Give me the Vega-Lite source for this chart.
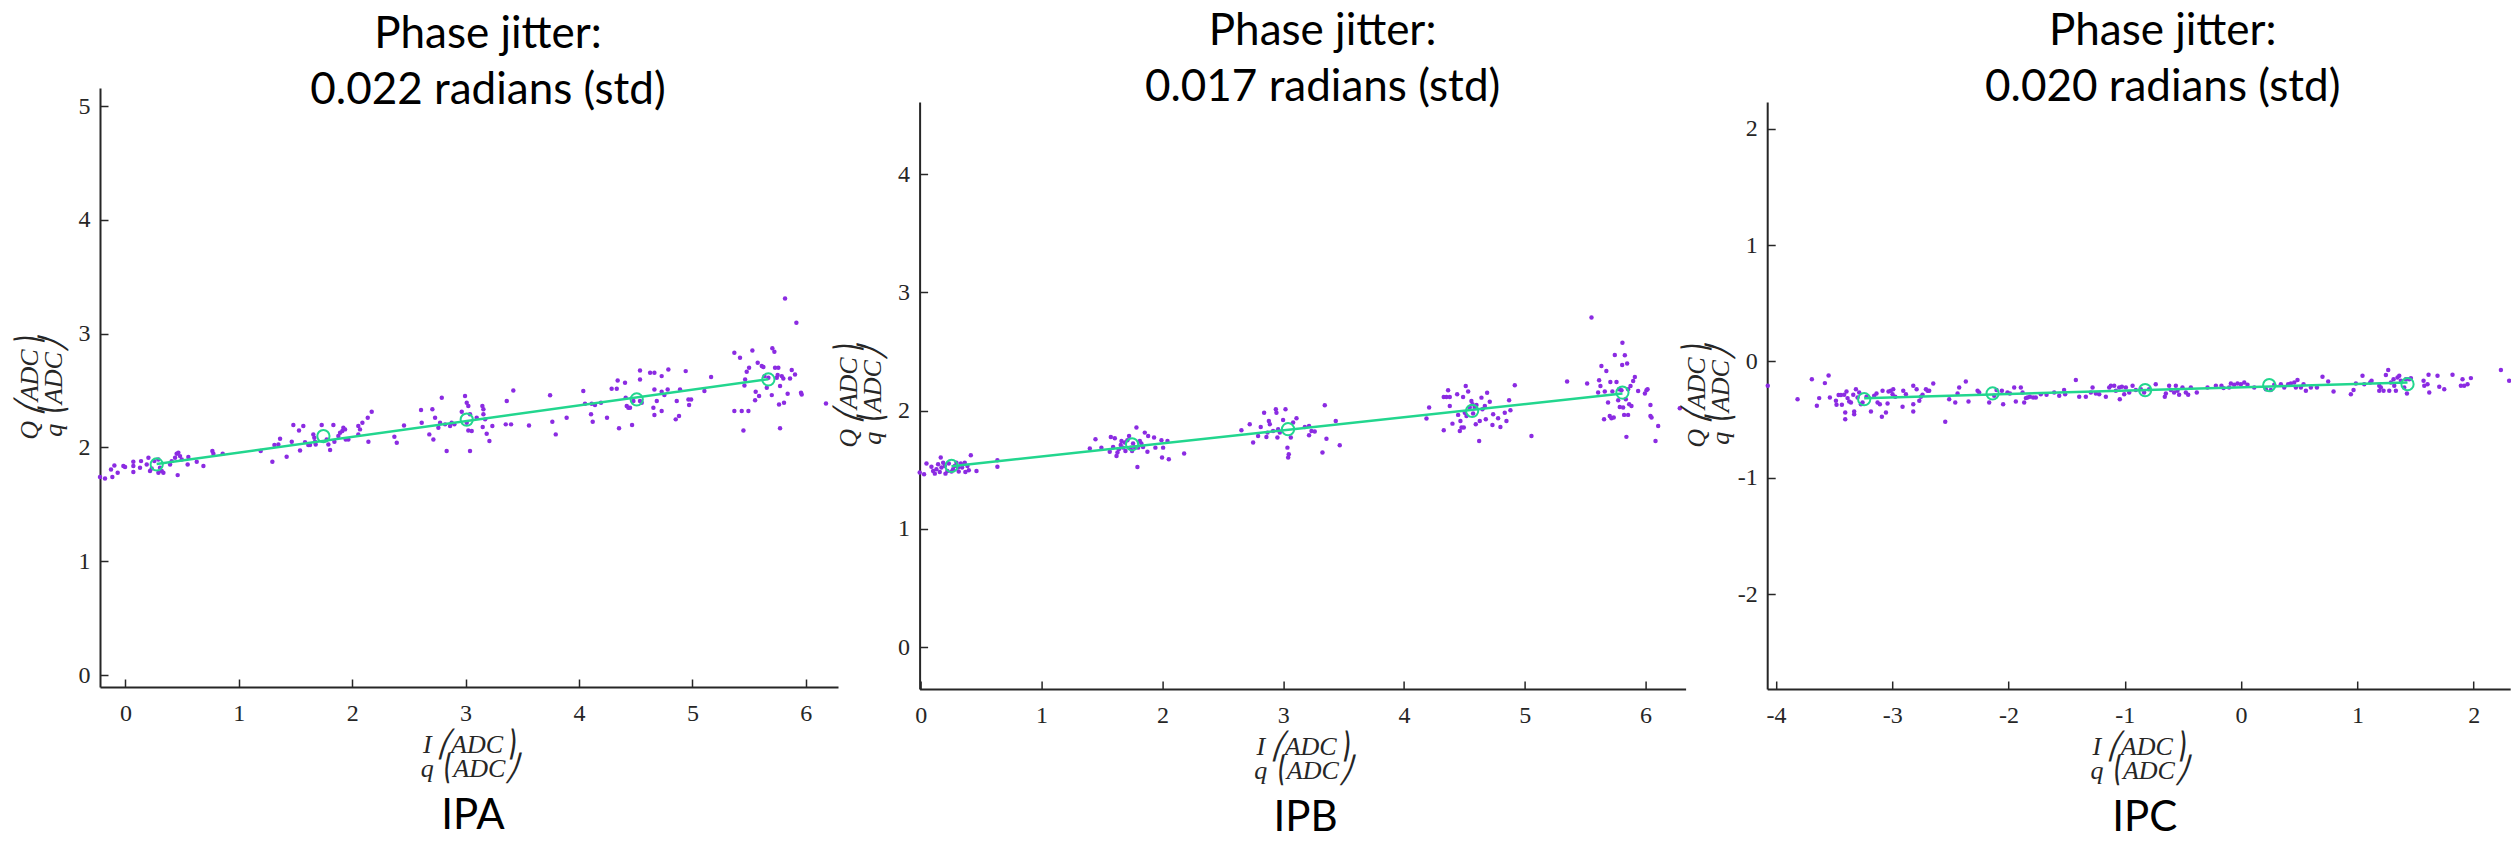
{
"$schema": "https://vega.github.io/schema/vega-lite/v6.json",
"background": "white",
"padding": {"left": 16, "top": 9, "right": 0, "bottom": 0},
"config": {
  "view": {"stroke": null},
  "axis": {"grid": false, "domainColor": "#262626", "domainWidth": 2, "tickColor": "#262626", "tickWidth": 1.5, "tickSize": -8,
           "labelFont": "Liberation Serif", "labelFontSize": 24, "labelColor": "#262626", "labelOverlap": false, "labelFlush": false,
           "labelExpr": "toString(datum.value)",
           "titleFont": "Liberation Serif", "titleFontSize": 26, "titleFontStyle": "italic", "titleFontWeight": "normal", "titleColor": "#262626", "titleLineHeight": 24},
  "axisX": {"labelPadding": 22, "minExtent": 36, "maxExtent": 36, "titlePadding": 8},
  "axisY": {"labelPadding": 18, "minExtent": 30, "maxExtent": 30, "titlePadding": 4},
  "title": {"font": "Lato", "fontSize": 44, "fontWeight": "normal", "color": "#000000", "lineHeight": 56.5, "baseline": "alphabetic", "frame": "group", "anchor": "middle"}
},
"datasets": {
"pts": [
{"p":"A","x":-0.224,"y":1.740},{"p":"A","x":-0.180,"y":1.728},{"p":"A","x":-0.115,"y":1.740},{"p":"A","x":-0.068,"y":1.778},{"p":"A","x":-0.127,"y":1.807},{"p":"A","x":-0.097,"y":1.842},{"p":"A","x":-0.018,"y":1.837},{"p":"A","x":-0.003,"y":1.828},{"p":"A","x":0.070,"y":1.875},{"p":"A","x":0.070,"y":1.837},{"p":"A","x":0.070,"y":1.784},{"p":"A","x":0.129,"y":1.822},{"p":"A","x":0.138,"y":1.880},{"p":"A","x":0.188,"y":1.851},{"p":"A","x":0.203,"y":1.910},{"p":"A","x":0.232,"y":1.816},{"p":"A","x":0.217,"y":1.793},{"p":"A","x":0.255,"y":1.880},{"p":"A","x":0.291,"y":1.895},{"p":"A","x":0.305,"y":1.822},{"p":"A","x":0.335,"y":1.778},{"p":"A","x":0.320,"y":1.793},{"p":"A","x":0.291,"y":1.778},{"p":"A","x":0.394,"y":1.851},{"p":"A","x":0.408,"y":1.880},{"p":"A","x":0.438,"y":1.910},{"p":"A","x":0.452,"y":1.945},{"p":"A","x":0.467,"y":1.954},{"p":"A","x":0.482,"y":1.924},{"p":"A","x":0.497,"y":1.895},{"p":"A","x":0.549,"y":1.851},{"p":"A","x":0.555,"y":1.916},{"p":"A","x":0.461,"y":1.757},{"p":"A","x":0.629,"y":1.875},{"p":"A","x":0.688,"y":1.837},{"p":"A","x":0.767,"y":1.968},{"p":"A","x":0.776,"y":1.945},{"p":"A","x":0.858,"y":1.945},
{"p":"A","x":1.193,"y":1.968},{"p":"A","x":1.296,"y":1.875},{"p":"A","x":1.314,"y":2.021},{"p":"A","x":1.349,"y":2.027},{"p":"A","x":1.364,"y":2.077},{"p":"A","x":1.422,"y":1.919},{"p":"A","x":1.467,"y":2.050},{"p":"A","x":1.481,"y":2.197},{"p":"A","x":1.531,"y":2.150},{"p":"A","x":1.540,"y":1.974},{"p":"A","x":1.569,"y":2.188},{"p":"A","x":1.584,"y":2.047},{"p":"A","x":1.613,"y":2.021},{"p":"A","x":1.628,"y":2.021},{"p":"A","x":1.657,"y":2.115},{"p":"A","x":1.666,"y":2.086},{"p":"A","x":1.672,"y":2.050},{"p":"A","x":1.678,"y":2.027},{"p":"A","x":1.731,"y":2.197},{"p":"A","x":1.775,"y":2.071},{"p":"A","x":1.790,"y":2.027},{"p":"A","x":1.805,"y":1.977},{"p":"A","x":1.834,"y":2.197},{"p":"A","x":1.843,"y":2.050},{"p":"A","x":1.878,"y":2.100},{"p":"A","x":1.893,"y":2.129},{"p":"A","x":1.913,"y":2.144},{"p":"A","x":1.922,"y":2.173},{"p":"A","x":1.937,"y":2.159},{"p":"A","x":1.943,"y":2.071},{"p":"A","x":1.966,"y":2.071},{"p":"A","x":2.054,"y":2.188},{"p":"A","x":2.069,"y":2.159},{"p":"A","x":2.054,"y":2.115},{"p":"A","x":2.090,"y":2.217},{"p":"A","x":2.137,"y":2.261},{"p":"A","x":2.172,"y":2.314},{"p":"A","x":2.143,"y":2.050},{"p":"A","x":2.372,"y":2.094},{"p":"A","x":2.393,"y":2.042},{"p":"A","x":2.457,"y":2.194},{"p":"A","x":2.607,"y":2.329},{"p":"A","x":2.613,"y":2.217},{"p":"A","x":2.680,"y":2.115},{"p":"A","x":2.707,"y":2.335},{"p":"A","x":2.716,"y":2.071},{"p":"A","x":2.731,"y":2.261},{"p":"A","x":2.760,"y":2.173},{"p":"A","x":2.775,"y":2.217},{"p":"A","x":2.790,"y":2.437},{"p":"A","x":2.833,"y":1.968},{"p":"A","x":2.819,"y":2.203},{"p":"A","x":2.863,"y":2.188},{"p":"A","x":2.877,"y":2.217},{"p":"A","x":2.901,"y":2.203},{"p":"A","x":2.966,"y":2.314},{"p":"A","x":2.995,"y":2.452},{"p":"A","x":3.010,"y":2.393},{"p":"A","x":3.024,"y":2.364},{"p":"A","x":3.024,"y":2.150},{"p":"A","x":3.039,"y":1.968},
{"p":"A","x":3.039,"y":2.291},{"p":"A","x":3.010,"y":2.217},{"p":"A","x":3.054,"y":2.144},{"p":"A","x":3.098,"y":2.261},{"p":"A","x":3.148,"y":2.364},{"p":"A","x":3.157,"y":2.335},{"p":"A","x":3.157,"y":2.291},{"p":"A","x":3.172,"y":2.247},{"p":"A","x":3.151,"y":2.179},{"p":"A","x":3.186,"y":2.121},{"p":"A","x":3.210,"y":2.056},{"p":"A","x":3.236,"y":2.188},{"p":"A","x":3.363,"y":2.408},{"p":"A","x":3.354,"y":2.203},{"p":"A","x":3.401,"y":2.203},{"p":"A","x":3.421,"y":2.501},{"p":"A","x":3.559,"y":2.194},{"p":"A","x":3.745,"y":2.458},{"p":"A","x":3.765,"y":2.226},{"p":"A","x":3.795,"y":2.115},{"p":"A","x":3.891,"y":2.261},{"p":"A","x":4.038,"y":2.496},{"p":"A","x":4.053,"y":2.384},{"p":"A","x":4.106,"y":2.291},{"p":"A","x":4.121,"y":2.226},{"p":"A","x":4.112,"y":2.384},{"p":"A","x":4.141,"y":2.373},{"p":"A","x":4.194,"y":2.393},{"p":"A","x":4.247,"y":2.261},{"p":"A","x":4.288,"y":2.516},{"p":"A","x":4.333,"y":2.516},{"p":"A","x":4.341,"y":2.589},{"p":"A","x":4.353,"y":2.168},{"p":"A","x":4.406,"y":2.569},{"p":"A","x":4.412,"y":2.437},{"p":"A","x":4.421,"y":2.364},{"p":"A","x":4.435,"y":2.349},{"p":"A","x":4.450,"y":2.349},{"p":"A","x":4.468,"y":2.197},{"p":"A","x":4.480,"y":2.408},{"p":"A","x":4.538,"y":2.677},{"p":"A","x":4.538,"y":2.598},{"p":"A","x":4.538,"y":2.408},{"p":"A","x":4.553,"y":2.393},{"p":"A","x":4.627,"y":2.657},{"p":"A","x":4.665,"y":2.657},{"p":"A","x":4.656,"y":2.349},{"p":"A","x":4.665,"y":2.285},{"p":"A","x":4.665,"y":2.510},{"p":"A","x":4.686,"y":2.408},{"p":"A","x":4.729,"y":2.627},{"p":"A","x":4.729,"y":2.320},{"p":"A","x":4.729,"y":2.490},{"p":"A","x":4.753,"y":2.460},{"p":"A","x":4.782,"y":2.510},{"p":"A","x":4.788,"y":2.686},{"p":"A","x":4.853,"y":2.247},{"p":"A","x":4.862,"y":2.408},{"p":"A","x":4.882,"y":2.276},{"p":"A","x":4.891,"y":2.510},{"p":"A","x":4.941,"y":2.671},{"p":"A","x":4.965,"y":2.422},{"p":"A","x":4.971,"y":2.373},{"p":"A","x":4.989,"y":2.422},{"p":"A","x":5.106,"y":2.496},{"p":"A","x":5.165,"y":2.619},{"p":"A","x":5.370,"y":2.832},{"p":"A","x":5.370,"y":2.320},{"p":"A","x":5.420,"y":2.789},{"p":"A","x":5.435,"y":2.320},{"p":"A","x":5.450,"y":2.150},{"p":"A","x":5.459,"y":2.545},{"p":"A","x":5.465,"y":2.598},{"p":"A","x":5.479,"y":2.666},{"p":"A","x":5.494,"y":2.320},{"p":"A","x":5.500,"y":2.701},{"p":"A","x":5.529,"y":2.853},{"p":"A","x":5.553,"y":2.414},{"p":"A","x":5.558,"y":2.490},{"p":"A","x":5.576,"y":2.745},{"p":"A","x":5.588,"y":2.452},{"p":"A","x":5.612,"y":2.715},{"p":"A","x":5.626,"y":2.707},{"p":"A","x":5.635,"y":2.627},{"p":"A","x":5.656,"y":2.525},{"p":"A","x":5.670,"y":2.613},{"p":"A","x":5.700,"y":2.460},{"p":"A","x":5.705,"y":2.871},{"p":"A","x":5.723,"y":2.841},{"p":"A","x":5.729,"y":2.701},{"p":"A","x":5.744,"y":2.613},{"p":"A","x":5.752,"y":2.636},{"p":"A","x":5.758,"y":2.701},{"p":"A","x":5.773,"y":2.540},{"p":"A","x":5.764,"y":2.378},{"p":"A","x":5.773,"y":2.168},{"p":"A","x":5.788,"y":2.627},{"p":"A","x":5.802,"y":2.607},{"p":"A","x":5.808,"y":2.393},{"p":"A","x":5.817,"y":3.310},{"p":"A","x":5.840,"y":2.472},{"p":"A","x":5.861,"y":2.607},{"p":"A","x":5.876,"y":2.680},{"p":"A","x":5.905,"y":2.642},{"p":"A","x":5.917,"y":3.096},{"p":"A","x":5.958,"y":2.481},{"p":"A","x":5.964,"y":2.466},{"p":"A","x":6.178,"y":2.387},
{"p":"B","x":-0.009,"y":1.476},{"p":"B","x":0.027,"y":1.462},{"p":"B","x":0.047,"y":1.552},{"p":"B","x":0.088,"y":1.526},{"p":"B","x":0.102,"y":1.490},{"p":"B","x":0.116,"y":1.467},{"p":"B","x":0.129,"y":1.504},{"p":"B","x":0.143,"y":1.546},{"p":"B","x":0.157,"y":1.481},{"p":"B","x":0.165,"y":1.603},{"p":"B","x":0.171,"y":1.518},{"p":"B","x":0.185,"y":1.560},{"p":"B","x":0.199,"y":1.532},{"p":"B","x":0.204,"y":1.467},{"p":"B","x":0.220,"y":1.490},{"p":"B","x":0.232,"y":1.552},{"p":"B","x":0.254,"y":1.484},{"p":"B","x":0.267,"y":1.504},{"p":"B","x":0.281,"y":1.532},{"p":"B","x":0.295,"y":1.560},{"p":"B","x":0.309,"y":1.518},{"p":"B","x":0.314,"y":1.484},{"p":"B","x":0.331,"y":1.552},{"p":"B","x":0.342,"y":1.518},{"p":"B","x":0.364,"y":1.560},{"p":"B","x":0.369,"y":1.481},{"p":"B","x":0.386,"y":1.532},{"p":"B","x":0.397,"y":1.495},{"p":"B","x":0.414,"y":1.622},{"p":"B","x":0.461,"y":1.490},{"p":"B","x":0.634,"y":1.580},{"p":"B","x":0.634,"y":1.526},
{"p":"B","x":1.399,"y":1.679},{"p":"B","x":1.446,"y":1.758},{"p":"B","x":1.495,"y":1.687},{"p":"B","x":1.564,"y":1.653},{"p":"B","x":1.573,"y":1.777},{"p":"B","x":1.592,"y":1.693},{"p":"B","x":1.606,"y":1.766},{"p":"B","x":1.620,"y":1.617},{"p":"B","x":1.628,"y":1.645},{"p":"B","x":1.639,"y":1.673},{"p":"B","x":1.655,"y":1.710},{"p":"B","x":1.661,"y":1.744},{"p":"B","x":1.675,"y":1.687},{"p":"B","x":1.688,"y":1.730},{"p":"B","x":1.694,"y":1.659},{"p":"B","x":1.710,"y":1.749},{"p":"B","x":1.724,"y":1.786},{"p":"B","x":1.738,"y":1.687},{"p":"B","x":1.749,"y":1.659},{"p":"B","x":1.757,"y":1.721},{"p":"B","x":1.771,"y":1.693},{"p":"B","x":1.785,"y":1.857},{"p":"B","x":1.793,"y":1.524},{"p":"B","x":1.799,"y":1.687},{"p":"B","x":1.813,"y":1.744},{"p":"B","x":1.826,"y":1.721},{"p":"B","x":1.840,"y":1.693},{"p":"B","x":1.854,"y":1.814},{"p":"B","x":1.876,"y":1.653},{"p":"B","x":1.882,"y":1.786},{"p":"B","x":1.931,"y":1.772},{"p":"B","x":1.942,"y":1.687},{"p":"B","x":1.992,"y":1.749},{"p":"B","x":1.997,"y":1.603},{"p":"B","x":2.006,"y":1.687},{"p":"B","x":2.042,"y":1.744},{"p":"B","x":2.053,"y":1.589},{"p":"B","x":2.180,"y":1.637},
{"p":"B","x":2.654,"y":1.834},{"p":"B","x":2.723,"y":1.885},{"p":"B","x":2.751,"y":1.730},{"p":"B","x":2.792,"y":1.786},{"p":"B","x":2.814,"y":1.862},{"p":"B","x":2.842,"y":1.983},{"p":"B","x":2.861,"y":1.777},{"p":"B","x":2.870,"y":1.814},{"p":"B","x":2.881,"y":1.913},{"p":"B","x":2.889,"y":1.885},{"p":"B","x":2.916,"y":1.828},{"p":"B","x":2.939,"y":2.012},{"p":"B","x":2.944,"y":1.983},{"p":"B","x":2.952,"y":1.772},{"p":"B","x":2.958,"y":1.843},{"p":"B","x":2.972,"y":1.814},{"p":"B","x":2.999,"y":1.921},{"p":"B","x":3.019,"y":2.012},{"p":"B","x":3.035,"y":1.687},{"p":"B","x":3.041,"y":1.603},{"p":"B","x":3.046,"y":1.631},{"p":"B","x":3.063,"y":1.772},{"p":"B","x":3.082,"y":1.899},{"p":"B","x":3.110,"y":1.936},{"p":"B","x":3.179,"y":1.862},{"p":"B","x":3.214,"y":1.871},{"p":"B","x":3.214,"y":1.792},{"p":"B","x":3.234,"y":1.828},{"p":"B","x":3.261,"y":1.823},{"p":"B","x":3.325,"y":1.645},{"p":"B","x":3.344,"y":2.046},{"p":"B","x":3.358,"y":1.763},{"p":"B","x":3.435,"y":1.913},{"p":"B","x":3.468,"y":1.707},
{"p":"B","x":4.186,"y":1.933},{"p":"B","x":4.208,"y":2.026},{"p":"B","x":4.329,"y":1.834},{"p":"B","x":4.329,"y":2.116},{"p":"B","x":4.351,"y":2.116},{"p":"B","x":4.365,"y":2.172},{"p":"B","x":4.379,"y":2.116},{"p":"B","x":4.379,"y":2.040},{"p":"B","x":4.401,"y":1.890},{"p":"B","x":4.440,"y":2.138},{"p":"B","x":4.448,"y":1.964},{"p":"B","x":4.462,"y":1.828},{"p":"B","x":4.467,"y":1.913},{"p":"B","x":4.476,"y":1.857},{"p":"B","x":4.489,"y":2.116},{"p":"B","x":4.495,"y":1.857},{"p":"B","x":4.503,"y":1.983},{"p":"B","x":4.511,"y":2.209},{"p":"B","x":4.517,"y":1.955},{"p":"B","x":4.531,"y":2.161},{"p":"B","x":4.544,"y":2.026},{"p":"B","x":4.558,"y":2.082},{"p":"B","x":4.567,"y":2.054},{"p":"B","x":4.572,"y":1.975},{"p":"B","x":4.586,"y":2.026},{"p":"B","x":4.594,"y":1.885},{"p":"B","x":4.600,"y":2.048},{"p":"B","x":4.622,"y":1.744},{"p":"B","x":4.627,"y":1.913},{"p":"B","x":4.641,"y":2.110},{"p":"B","x":4.649,"y":2.012},{"p":"B","x":4.669,"y":2.040},{"p":"B","x":4.677,"y":1.927},{"p":"B","x":4.688,"y":2.152},{"p":"B","x":4.710,"y":2.076},{"p":"B","x":4.732,"y":1.879},{"p":"B","x":4.738,"y":1.969},{"p":"B","x":4.779,"y":1.935},{"p":"B","x":4.798,"y":1.862},{"p":"B","x":4.834,"y":1.983},{"p":"B","x":4.848,"y":1.913},{"p":"B","x":4.870,"y":2.088},{"p":"B","x":4.881,"y":2.003},{"p":"B","x":4.917,"y":2.214},{"p":"B","x":5.055,"y":1.786},
{"p":"B","x":5.350,"y":2.246},{"p":"B","x":5.516,"y":2.229},{"p":"B","x":5.552,"y":2.787},{"p":"B","x":5.607,"y":2.153},{"p":"B","x":5.615,"y":2.257},{"p":"B","x":5.626,"y":2.209},{"p":"B","x":5.634,"y":2.378},{"p":"B","x":5.656,"y":1.927},{"p":"B","x":5.662,"y":2.161},{"p":"B","x":5.675,"y":2.336},{"p":"B","x":5.689,"y":2.068},{"p":"B","x":5.703,"y":1.955},{"p":"B","x":5.708,"y":2.243},{"p":"B","x":5.717,"y":1.935},{"p":"B","x":5.725,"y":2.161},{"p":"B","x":5.736,"y":1.941},{"p":"B","x":5.745,"y":2.471},{"p":"B","x":5.759,"y":2.243},{"p":"B","x":5.773,"y":2.088},{"p":"B","x":5.781,"y":2.181},{"p":"B","x":5.786,"y":2.031},{"p":"B","x":5.800,"y":2.172},{"p":"B","x":5.806,"y":2.386},{"p":"B","x":5.808,"y":2.575},{"p":"B","x":5.814,"y":2.026},{"p":"B","x":5.822,"y":1.964},{"p":"B","x":5.828,"y":2.468},{"p":"B","x":5.836,"y":2.096},{"p":"B","x":5.841,"y":1.778},{"p":"B","x":5.847,"y":2.398},{"p":"B","x":5.855,"y":2.181},{"p":"B","x":5.855,"y":1.964},{"p":"B","x":5.864,"y":2.054},{"p":"B","x":5.875,"y":2.209},{"p":"B","x":5.883,"y":2.040},{"p":"B","x":5.897,"y":2.251},{"p":"B","x":5.911,"y":2.285},{"p":"B","x":5.938,"y":2.167},{"p":"B","x":5.994,"y":2.144},{"p":"B","x":6.007,"y":2.172},{"p":"B","x":6.016,"y":2.181},{"p":"B","x":6.040,"y":2.048},{"p":"B","x":6.040,"y":1.955},{"p":"B","x":6.049,"y":1.941},{"p":"B","x":6.082,"y":1.744},{"p":"B","x":6.104,"y":1.870},{"p":"B","x":6.283,"y":2.020},
{"p":"C","x":-4.070,"y":-0.209},{"p":"C","x":-3.814,"y":-0.324},{"p":"C","x":-3.691,"y":-0.152},{"p":"C","x":-3.648,"y":-0.381},{"p":"C","x":-3.628,"y":-0.315},{"p":"C","x":-3.579,"y":-0.186},{"p":"C","x":-3.547,"y":-0.120},{"p":"C","x":-3.536,"y":-0.309},{"p":"C","x":-3.484,"y":-0.338},{"p":"C","x":-3.479,"y":-0.372},{"p":"C","x":-3.461,"y":-0.289},{"p":"C","x":-3.441,"y":-0.289},{"p":"C","x":-3.433,"y":-0.372},{"p":"C","x":-3.413,"y":-0.286},{"p":"C","x":-3.404,"y":-0.438},{"p":"C","x":-3.404,"y":-0.496},{"p":"C","x":-3.393,"y":-0.258},{"p":"C","x":-3.384,"y":-0.315},{"p":"C","x":-3.370,"y":-0.344},{"p":"C","x":-3.355,"y":-0.352},{"p":"C","x":-3.335,"y":-0.286},{"p":"C","x":-3.327,"y":-0.430},{"p":"C","x":-3.327,"y":-0.453},{"p":"C","x":-3.312,"y":-0.238},{"p":"C","x":-3.298,"y":-0.309},{"p":"C","x":-3.284,"y":-0.266},{"p":"C","x":-3.269,"y":-0.367},{"p":"C","x":-3.255,"y":-0.352},{"p":"C","x":-3.221,"y":-0.304},{"p":"C","x":-3.183,"y":-0.430},{"p":"C","x":-3.155,"y":-0.295},{"p":"C","x":-3.135,"y":-0.275},{"p":"C","x":-3.126,"y":-0.352},{"p":"C","x":-3.106,"y":-0.367},{"p":"C","x":-3.089,"y":-0.476},{"p":"C","x":-3.083,"y":-0.252},{"p":"C","x":-3.054,"y":-0.438},{"p":"C","x":-3.040,"y":-0.361},{"p":"C","x":-3.032,"y":-0.258},{"p":"C","x":-3.012,"y":-0.252},{"p":"C","x":-2.997,"y":-0.281},{"p":"C","x":-2.991,"y":-0.238},{"p":"C","x":-2.974,"y":-0.304},{"p":"C","x":-2.911,"y":-0.390},{"p":"C","x":-2.905,"y":-0.252},{"p":"C","x":-2.882,"y":-0.281},{"p":"C","x":-2.819,"y":-0.209},{"p":"C","x":-2.819,"y":-0.367},{"p":"C","x":-2.819,"y":-0.430},{"p":"C","x":-2.790,"y":-0.238},{"p":"C","x":-2.767,"y":-0.338},{"p":"C","x":-2.753,"y":-0.304},{"p":"C","x":-2.739,"y":-0.286},{"p":"C","x":-2.710,"y":-0.238},{"p":"C","x":-2.696,"y":-0.252},{"p":"C","x":-2.682,"y":-0.252},{"p":"C","x":-2.647,"y":-0.189},{"p":"C","x":-2.544,"y":-0.519},{"p":"C","x":-2.510,"y":-0.324},{"p":"C","x":-2.458,"y":-0.352},{"p":"C","x":-2.438,"y":-0.275},{"p":"C","x":-2.424,"y":-0.223},{"p":"C","x":-2.367,"y":-0.172},{"p":"C","x":-2.344,"y":-0.344},{"p":"C","x":-2.266,"y":-0.252},{"p":"C","x":-2.252,"y":-0.266},{"p":"C","x":-2.166,"y":-0.352},{"p":"C","x":-2.123,"y":-0.295},{"p":"C","x":-2.103,"y":-0.246},{"p":"C","x":-2.057,"y":-0.252},{"p":"C","x":-2.046,"y":-0.367},{"p":"C","x":-2.009,"y":-0.266},{"p":"C","x":-1.988,"y":-0.275},{"p":"C","x":-1.951,"y":-0.223},{"p":"C","x":-1.937,"y":-0.344},{"p":"C","x":-1.894,"y":-0.223},{"p":"C","x":-1.879,"y":-0.266},{"p":"C","x":-1.865,"y":-0.352},{"p":"C","x":-1.851,"y":-0.315},{"p":"C","x":-1.836,"y":-0.309},{"p":"C","x":-1.816,"y":-0.304},{"p":"C","x":-1.788,"y":-0.309},{"p":"C","x":-1.765,"y":-0.309},{"p":"C","x":-1.722,"y":-0.281},{"p":"C","x":-1.673,"y":-0.286},{"p":"C","x":-1.607,"y":-0.266},{"p":"C","x":-1.564,"y":-0.295},{"p":"C","x":-1.522,"y":-0.246},{"p":"C","x":-1.513,"y":-0.281},{"p":"C","x":-1.421,"y":-0.160},{"p":"C","x":-1.392,"y":-0.304},{"p":"C","x":-1.335,"y":-0.304},{"p":"C","x":-1.292,"y":-0.266},{"p":"C","x":-1.277,"y":-0.223},{"p":"C","x":-1.249,"y":-0.275},{"p":"C","x":-1.220,"y":-0.281},{"p":"C","x":-1.163,"y":-0.304},{"p":"C","x":-1.134,"y":-0.223},{"p":"C","x":-1.120,"y":-0.209},{"p":"C","x":-1.091,"y":-0.209},{"p":"C","x":-1.077,"y":-0.252},{"p":"C","x":-1.048,"y":-0.223},{"p":"C","x":-1.043,"y":-0.324},{"p":"C","x":-1.025,"y":-0.218},{"p":"C","x":-1.005,"y":-0.281},{"p":"C","x":-0.991,"y":-0.223},{"p":"C","x":-0.962,"y":-0.266},{"p":"C","x":-0.933,"y":-0.209},{"p":"C","x":-0.905,"y":-0.246},
{"p":"C","x":-0.862,"y":-0.238},{"p":"C","x":-0.834,"y":-0.266},{"p":"C","x":-0.791,"y":-0.238},{"p":"C","x":-0.734,"y":-0.195},{"p":"C","x":-0.656,"y":-0.304},{"p":"C","x":-0.647,"y":-0.275},{"p":"C","x":-0.619,"y":-0.209},{"p":"C","x":-0.604,"y":-0.246},{"p":"C","x":-0.576,"y":-0.266},{"p":"C","x":-0.561,"y":-0.209},{"p":"C","x":-0.547,"y":-0.252},{"p":"C","x":-0.533,"y":-0.286},{"p":"C","x":-0.504,"y":-0.223},{"p":"C","x":-0.475,"y":-0.266},{"p":"C","x":-0.455,"y":-0.286},{"p":"C","x":-0.432,"y":-0.223},{"p":"C","x":-0.381,"y":-0.266},{"p":"C","x":-0.289,"y":-0.223},{"p":"C","x":-0.217,"y":-0.209},{"p":"C","x":-0.169,"y":-0.209},{"p":"C","x":-0.151,"y":-0.229},{"p":"C","x":-0.103,"y":-0.223},{"p":"C","x":-0.088,"y":-0.189},{"p":"C","x":-0.060,"y":-0.200},{"p":"C","x":-0.031,"y":-0.189},{"p":"C","x":-0.002,"y":-0.195},{"p":"C","x":0.027,"y":-0.180},{"p":"C","x":0.055,"y":-0.200},{"p":"C","x":0.113,"y":-0.223},{"p":"C","x":0.213,"y":-0.238},{"p":"C","x":0.256,"y":-0.246},{"p":"C","x":0.285,"y":-0.200},{"p":"C","x":0.342,"y":-0.195},{"p":"C","x":0.371,"y":-0.223},{"p":"C","x":0.405,"y":-0.195},{"p":"C","x":0.428,"y":-0.189},{"p":"C","x":0.457,"y":-0.180},{"p":"C","x":0.471,"y":-0.223},{"p":"C","x":0.485,"y":-0.160},{"p":"C","x":0.514,"y":-0.223},{"p":"C","x":0.537,"y":-0.195},{"p":"C","x":0.557,"y":-0.252},{"p":"C","x":0.600,"y":-0.223},{"p":"C","x":0.652,"y":-0.223},{"p":"C","x":0.700,"y":-0.132},{"p":"C","x":0.749,"y":-0.172},{"p":"C","x":0.795,"y":-0.258},{"p":"C","x":0.944,"y":-0.281},{"p":"C","x":0.967,"y":-0.246},{"p":"C","x":0.987,"y":-0.189},{"p":"C","x":1.044,"y":-0.123},{"p":"C","x":1.059,"y":-0.195},{"p":"C","x":1.110,"y":-0.180},{"p":"C","x":1.122,"y":-0.166},{"p":"C","x":1.188,"y":-0.209},{"p":"C","x":1.188,"y":-0.252},{"p":"C","x":1.202,"y":-0.223},{"p":"C","x":1.225,"y":-0.252},{"p":"C","x":1.245,"y":-0.117},{"p":"C","x":1.265,"y":-0.074},{"p":"C","x":1.274,"y":-0.252},{"p":"C","x":1.288,"y":-0.180},{"p":"C","x":1.311,"y":-0.152},{"p":"C","x":1.317,"y":-0.209},{"p":"C","x":1.331,"y":-0.252},{"p":"C","x":1.345,"y":-0.137},{"p":"C","x":1.360,"y":-0.123},{"p":"C","x":1.374,"y":-0.166},{"p":"C","x":1.403,"y":-0.223},{"p":"C","x":1.417,"y":-0.152},{"p":"C","x":1.426,"y":-0.275},{"p":"C","x":1.446,"y":-0.152},{"p":"C","x":1.460,"y":-0.143},{"p":"C","x":1.569,"y":-0.166},{"p":"C","x":1.575,"y":-0.209},{"p":"C","x":1.603,"y":-0.195},{"p":"C","x":1.612,"y":-0.114},{"p":"C","x":1.618,"y":-0.266},{"p":"C","x":1.689,"y":-0.123},{"p":"C","x":1.704,"y":-0.218},{"p":"C","x":1.747,"y":-0.238},{"p":"C","x":1.818,"y":-0.114},{"p":"C","x":1.890,"y":-0.209},{"p":"C","x":1.904,"y":-0.152},{"p":"C","x":1.918,"y":-0.209},{"p":"C","x":1.947,"y":-0.195},{"p":"C","x":1.976,"y":-0.143},{"p":"C","x":2.234,"y":-0.074},{"p":"C","x":2.305,"y":-0.166}
],
"circ": [
{"p":"A","x":0.276,"y":1.851},{"p":"A","x":1.746,"y":2.100},{"p":"A","x":3.010,"y":2.245},{"p":"A","x":4.509,"y":2.422},{"p":"A","x":5.670,"y":2.598},
{"p":"B","x":0.254,"y":1.532},{"p":"B","x":1.749,"y":1.715},{"p":"B","x":3.040,"y":1.843},{"p":"B","x":4.564,"y":1.998},{"p":"B","x":5.808,"y":2.153},
{"p":"C","x":-3.241,"y":-0.324},{"p":"C","x":-2.137,"y":-0.275},{"p":"C","x":-0.825,"y":-0.246},{"p":"C","x":0.242,"y":-0.203},{"p":"C","x":1.431,"y":-0.195}
],
"fit": [
{"p":"A","x":0.276,"y":1.855},{"p":"A","x":5.670,"y":2.600},
{"p":"B","x":0.254,"y":1.530},{"p":"B","x":5.808,"y":2.145},
{"p":"C","x":-3.241,"y":-0.316},{"p":"C","x":1.431,"y":-0.180}
]
},
"spacing": -2.4,
"hconcat": [
{
 "bounds": "flush", "spacing": 0,
 "vconcat": [
  {"width": 738, "height": 1, "data": {"values": []}, "mark": "point",
   "title": {"text": ["Phase jitter:", "0.022 radians (std)"], "offset": -26, "dx": 19}},
  {"width": 738, "height": 599,
   "title": {"text": "IPA", "orient": "bottom", "fontSize": 42, "offset": 15, "dx": 4},
   "layer": [
    {"data": {"name": "pts"}, "transform": [{"filter": "datum.p === 'A'"}],
     "mark": {"type": "point", "filled": true, "size": 20, "color": "#8b2be2", "opacity": 1},
     "encoding": {
       "x": {"field": "x", "type": "quantitative", "scale": {"domain": [-0.224, 6.284], "nice": false, "zero": false},
             "axis": {"values": [0,1,2,3,4,5,6], "title": ["I ⎛ADC⎞", "q ⎝ADC⎠"]}},
       "y": {"field": "y", "type": "quantitative", "scale": {"domain": [-0.105, 5.159], "nice": false, "zero": false},
             "axis": {"values": [0,1,2,3,4,5], "title": ["Q ⎛ADC⎞", "q ⎝ADC⎠"]}}}},
    {"data": {"name": "fit"}, "transform": [{"filter": "datum.p === 'A'"}],
     "mark": {"type": "line", "color": "#22d68e", "strokeWidth": 2.5},
     "encoding": {"x": {"field": "x", "type": "quantitative"}, "y": {"field": "y", "type": "quantitative"}}},
    {"data": {"name": "circ"}, "transform": [{"filter": "datum.p === 'A'"}],
     "mark": {"type": "point", "filled": false, "size": 150, "strokeWidth": 2, "color": "#22d68e", "opacity": 1},
     "encoding": {"x": {"field": "x", "type": "quantitative"}, "y": {"field": "y", "type": "quantitative"}}}
   ]}
 ]
},
{
 "bounds": "flush", "spacing": 0,
 "vconcat": [
  {"width": 766, "height": 14.7, "data": {"values": []}, "mark": "point",
   "title": {"text": ["Phase jitter:", "0.017 radians (std)"], "offset": -23, "dx": 20}},
  {"width": 766, "height": 587,
   "title": {"text": "IPB", "orient": "bottom", "fontSize": 42, "offset": 15, "dx": 3},
   "layer": [
    {"data": {"name": "pts"}, "transform": [{"filter": "datum.p === 'B'"}],
     "mark": {"type": "point", "filled": true, "size": 20, "color": "#8b2be2", "opacity": 1},
     "encoding": {
       "x": {"field": "x", "type": "quantitative", "scale": {"domain": [-0.01, 6.331], "nice": false, "zero": false},
             "axis": {"values": [0,1,2,3,4,5,6], "title": ["I ⎛ADC⎞", "q ⎝ADC⎠"]}},
       "y": {"field": "y", "type": "quantitative", "scale": {"domain": [-0.355, 4.611], "nice": false, "zero": false},
             "axis": {"values": [0,1,2,3,4], "title": ["Q ⎛ADC⎞", "q ⎝ADC⎠"]}}}},
    {"data": {"name": "fit"}, "transform": [{"filter": "datum.p === 'B'"}],
     "mark": {"type": "line", "color": "#22d68e", "strokeWidth": 2.5},
     "encoding": {"x": {"field": "x", "type": "quantitative"}, "y": {"field": "y", "type": "quantitative"}}},
    {"data": {"name": "circ"}, "transform": [{"filter": "datum.p === 'B'"}],
     "mark": {"type": "point", "filled": false, "size": 150, "strokeWidth": 2, "color": "#22d68e", "opacity": 1},
     "encoding": {"x": {"field": "x", "type": "quantitative"}, "y": {"field": "y", "type": "quantitative"}}}
   ]}
 ]
},
{
 "bounds": "flush", "spacing": 0,
 "vconcat": [
  {"width": 743, "height": 14.7, "data": {"values": []}, "mark": "point",
   "title": {"text": ["Phase jitter:", "0.020 radians (std)"], "offset": -23, "dx": 24}},
  {"width": 743, "height": 587,
   "title": {"text": "IPC", "orient": "bottom", "fontSize": 42, "offset": 15, "dx": 6},
   "layer": [
    {"data": {"name": "pts"}, "transform": [{"filter": "datum.p === 'C'"}],
     "mark": {"type": "point", "filled": true, "size": 20, "color": "#8b2be2", "opacity": 1},
     "encoding": {
       "x": {"field": "x", "type": "quantitative", "scale": {"domain": [-4.075, 2.314], "nice": false, "zero": false},
             "axis": {"values": [-4,-3,-2,-1,0,1,2], "title": ["I ⎛ADC⎞", "q ⎝ADC⎠"]}},
       "y": {"field": "y", "type": "quantitative", "scale": {"domain": [-2.816, 2.231], "nice": false, "zero": false},
             "axis": {"values": [-2,-1,0,1,2], "title": ["Q ⎛ADC⎞", "q ⎝ADC⎠"]}}}},
    {"data": {"name": "fit"}, "transform": [{"filter": "datum.p === 'C'"}],
     "mark": {"type": "line", "color": "#22d68e", "strokeWidth": 2.5},
     "encoding": {"x": {"field": "x", "type": "quantitative"}, "y": {"field": "y", "type": "quantitative"}}},
    {"data": {"name": "circ"}, "transform": [{"filter": "datum.p === 'C'"}],
     "mark": {"type": "point", "filled": false, "size": 150, "strokeWidth": 2, "color": "#22d68e", "opacity": 1},
     "encoding": {"x": {"field": "x", "type": "quantitative"}, "y": {"field": "y", "type": "quantitative"}}}
   ]}
 ]
}
]
}
